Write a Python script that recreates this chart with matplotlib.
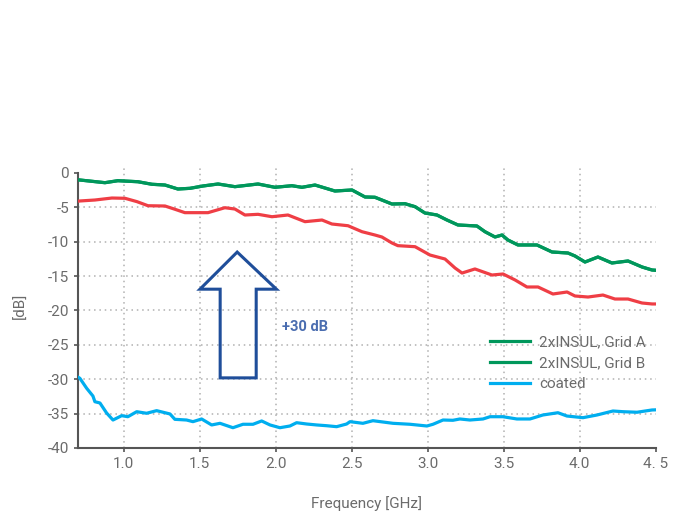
import matplotlib
matplotlib.use('Agg')
import matplotlib.pyplot as plt
from matplotlib.patches import Polygon

plt.rcParams['font.family'] = ['Liberation Sans Narrow', 'Roboto', 'DejaVu Sans']
plt.rcParams['axes.unicode_minus'] = False

# Data
freq_a = [0.70, 0.712, 0.877, 0.962, 1.094, 1.186, 1.272, 1.357, 1.436, 1.522, 1.621, 1.732, 1.884,
          1.995, 2.107, 2.173, 2.259, 2.390, 2.502, 2.588, 2.653, 2.765, 2.851, 2.917, 2.982,
          3.061, 3.127, 3.199, 3.324, 3.377, 3.443, 3.489, 3.528, 3.594, 3.719, 3.818, 3.923,
          3.969, 4.035, 4.120, 4.212, 4.318, 4.410, 4.476, 4.50]
grid_a = [-1.0, -1.02, -1.41, -1.12, -1.27, -1.64, -1.75, -2.33, -2.23, -1.89, -1.60, -1.99, -1.60,
          -2.08, -1.85, -2.08, -1.75, -2.62, -2.47, -3.49, -3.53, -4.51, -4.47, -4.90, -5.82,
          -6.11, -6.84, -7.56, -7.71, -8.54, -9.31, -9.02, -9.75, -10.47, -10.47, -11.49, -11.64,
          -12.07, -12.95, -12.22, -13.09, -12.80, -13.67, -14.11, -14.15]
grid_b = list(grid_a)

freq_c = [0.70, 0.712, 0.811, 0.923, 1.009, 1.088, 1.160, 1.272, 1.338, 1.403, 1.555, 1.666, 1.732,
          1.798, 1.884, 1.976, 2.081, 2.193, 2.305, 2.370, 2.476, 2.568, 2.653, 2.699, 2.765,
          2.804, 2.917, 3.015, 3.114, 3.180, 3.226, 3.311, 3.423, 3.496, 3.575, 3.653, 3.726,
          3.824, 3.917, 3.969, 4.055, 4.153, 4.232, 4.318, 4.410, 4.476, 4.50]
red_vals = [-4.1, -4.07, -3.93, -3.64, -3.68, -4.17, -4.76, -4.80, -5.28, -5.77, -5.77, -5.05, -5.24,
            -6.11, -6.01, -6.36, -6.11, -7.08, -6.84, -7.42, -7.67, -8.54, -9.02, -9.31, -10.18,
            -10.57, -10.72, -11.93, -12.51, -13.82, -14.55, -13.96, -14.84, -14.69, -15.56, -16.58, -16.58,
            -17.60, -17.31, -17.89, -18.04, -17.75, -18.33, -18.33, -18.91, -19.05, -19.05]

freq_d = [0.70, 0.712, 0.757, 0.798, 0.811, 0.844, 0.888, 0.930, 0.987, 1.028, 1.086, 1.151, 1.217,
          1.305, 1.337, 1.414, 1.456, 1.513, 1.579, 1.634, 1.719, 1.785, 1.851, 1.908, 1.963,
          2.028, 2.094, 2.138, 2.204, 2.270, 2.336, 2.401, 2.467, 2.489, 2.574, 2.640, 2.772,
          2.884, 2.995, 3.035, 3.101, 3.166, 3.212, 3.278, 3.364, 3.410, 3.495, 3.587, 3.673,
          3.758, 3.857, 3.916, 4.022, 4.114, 4.219, 4.285, 4.377, 4.476, 4.50]
coated = [-29.7, -29.86, -31.32, -32.44, -33.27, -33.45, -34.91, -35.93, -35.30, -35.45, -34.72, -34.95, -34.57,
          -35.05, -35.83, -35.93, -36.17, -35.78, -36.65, -36.41, -37.05, -36.55, -36.55, -36.07, -36.65,
          -37.05, -36.80, -36.32, -36.51, -36.65, -36.76, -36.90, -36.51, -36.17, -36.41, -36.03, -36.41,
          -36.55, -36.80, -36.55, -35.93, -35.97, -35.78, -35.93, -35.78, -35.45, -35.45, -35.78, -35.78,
          -35.20, -34.87, -35.35, -35.59, -35.20, -34.62, -34.72, -34.80, -34.47, -34.45]

x_ticks = [1.0, 1.5, 2.0, 2.5, 3.0, 3.5, 4.0, 4.5]
x_labels = ['1.0', '1.5', '2.0', '2.5', '3.0', '3.5', '4.0', '4. 5']
y_ticks = [0, -5, -10, -15, -20, -25, -30, -35, -40]

# arrow outline (GHz, dB)
arrow_x = [1.747, 2.005, 1.872, 1.872, 1.635, 1.635, 1.502]
arrow_y = [-11.5, -16.9, -16.9, -29.8, -29.8, -16.9, -16.9]

green = '#00975b'
red = '#ef3e45'
blue = '#00aeef'
text_gray = '#6b6b6b'

fig = plt.figure(figsize=(6.75, 5.11), dpi=100)
ax = fig.add_axes([0.1156, 0.1233, 0.8558, 0.5543])

ax.plot(freq_a, grid_a, color=green, lw=2.3, label='2xINSUL, Grid A', zorder=3)
ax.plot(freq_a, grid_b, color=green, lw=2.3, label='2xINSUL, Grid B', zorder=3)
ax.plot(freq_c, red_vals, color=red, lw=2.3, zorder=3)
ax.plot(freq_d, coated, color=blue, lw=2.3, label='coated', zorder=3)

ax.add_patch(Polygon(list(zip(arrow_x, arrow_y)), closed=True, fill=False,
                     edgecolor='#1f4e9a', lw=2.2, joinstyle='miter', zorder=4))
ax.text(2.04, -22.4, '+30 dB', color='#4a6db0', fontsize=10.5, fontweight='bold',
        va='center', ha='left')

ax.set_xlim(0.7, 4.5)
ax.set_ylim(-40, 1.2)
ax.set_xticks(x_ticks)
ax.set_xticklabels(x_labels)
ax.set_yticks(y_ticks)
ax.set_yticklabels([str(v) for v in y_ticks])

# dotted grid, none on 0 / -40 / 4.5
for v in y_ticks[1:-1]:
    ax.axhline(v, color='#b0b0b0', ls=(0, (1, 2.5)), lw=1.1, zorder=1)
for v in x_ticks[:-1]:
    ax.axvline(v, color='#b0b0b0', ls=(0, (1, 2.5)), lw=1.1, zorder=1)

for s in ['top', 'right']:
    ax.spines[s].set_visible(False)
ax.spines['left'].set_bounds(-40, 0)
for s in ['left', 'bottom']:
    ax.spines[s].set_color('#555555')
    ax.spines[s].set_linewidth(1.5)
ax.tick_params(direction='out', length=3, width=1.2, color='#555555',
               labelcolor=text_gray, labelsize=11)

ax.set_ylabel('[dB]', color=text_gray, fontsize=11, labelpad=14)
ax.set_xlabel('Frequency [GHz]', color=text_gray, fontsize=11)
ax.xaxis.set_label_coords(0.5, -0.168)

leg = ax.legend(loc='upper left', bbox_to_anchor=(0.69, 0.447), frameon=False,
                fontsize=11, handlelength=2.6, labelspacing=0.45, handletextpad=0.6)
for t in leg.get_texts():
    t.set_color(text_gray)

fig.savefig('out.png', dpi=100)
